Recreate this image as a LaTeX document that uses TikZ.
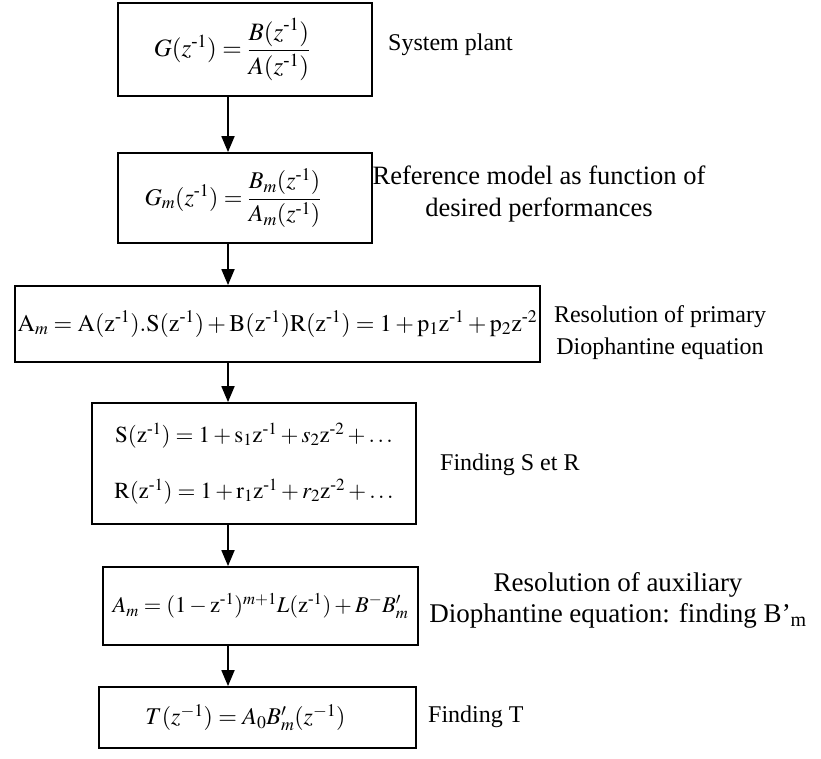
\documentclass[tikz,border=0pt]{standalone}
\usepackage{amsmath}
\usepackage{mathptmx}
\usepackage[no-math]{fontspec}
\setmainfont{Liberation Serif}
\usetikzlibrary{arrows.meta, positioning, calc}
\newcommand{\hm}{\text{-}}

\begin{document}
\begin{tikzpicture}[x=1pt, y=-1pt,
        box/.style={rectangle, draw=black, line width=1.8pt, inner sep=2pt, font=\fontsize{24}{32}\selectfont},
        lbl/.style={inner sep=0pt, align=center, font=\fontsize{24}{32}\selectfont},
        arr/.style={-{Triangle[length=16pt, width=13pt]}, line width=1.8pt, black}
      ]
        \useasboundingbox (0,0) rectangle (821,758);
        \node[box, minimum width=254pt, minimum height=93pt, font=\fontsize{25}{32}\selectfont] (plant) at (245,49.5) {$G(z^{\hm1}) = \dfrac{B(z^{\hm1})}{A(z^{\hm1})}$\hspace*{26pt}};
        \node[box, minimum width=254pt, minimum height=90pt] (model) at (245,198) {$G_m(z^{\hm1}) = \dfrac{B_m(z^{\hm1})}{A_m(z^{\hm1})}$\hspace*{24pt}};
        \node[box, minimum width=525pt, minimum height=76pt, font=\fontsize{24}{30}\selectfont] (prim) at (277.5,324) {$\mathrm{A}_m = \mathrm{A(z^{\hm1}).S(z^{\hm1})} + \mathrm{B(z^{\hm1})R(z^{\hm1})} = 1 + \mathrm{p_1z^{\hm1}} + \mathrm{p_2z^{\hm2}}$};
        \node[box, minimum width=324pt, minimum height=121pt, align=center, font=\fontsize{23}{56}\selectfont] (sr) at (254,463.5) {$\mathrm{S(z^{\hm1})} = 1 + \mathrm{s_1z^{\hm1}} + s_2\mathrm{z^{\hm2}} + \ldots$\\$\mathrm{R(z^{\hm1})} = 1 + \mathrm{r_1z^{\hm1}} + r_2\mathrm{z^{\hm2}} + \ldots$};
        \node[box, minimum width=315pt, minimum height=78pt, font=\fontsize{22.5}{30}\selectfont] (aux) at (260.5,606) {$A_m = (1-\mathrm{z}^{\hm1})^{m+1}L(\mathrm{z}^{\hm1}) + B^{-}B'_{m}$};
        \node[box, minimum width=317pt, minimum height=61pt] (tpol) at (257.5,717.5) {$T(z^{-1}) = A_0B'_m(z^{-1})$\hspace*{24pt}};
        \coordinate (ax) at (228,0);
        \node[lbl, anchor=west] (plantlbl) at (388,45) {System plant};
        \node[lbl, font=\fontsize{26.5}{32}\selectfont] (modellbl) at (539,194) {Reference model as function of\\desired performances};
        \node[lbl] (primlbl) at (660,333) {Resolution of primary\\Diophantine equation};
        \node[lbl, anchor=west] (srlbl) at (440,465) {Finding S et R};
        \node[lbl, font=\fontsize{27}{31}\selectfont] (auxlbl) at (618,600) {Resolution of auxiliary\\Diophantine equation: finding B’\textsubscript{m}};
        \node[lbl, anchor=west] (tlbl) at (428,717) {Finding T};
        \draw[arr] (plant.south -| ax) -- (model.north -| ax);
        \draw[arr] (model.south -| ax) -- (prim.north -| ax);
        \draw[arr] (prim.south -| ax) -- (sr.north -| ax);
        \draw[arr] (sr.south -| ax) -- (aux.north -| ax);
        \draw[arr] (aux.south -| ax) -- (tpol.north -| ax);
      \end{tikzpicture}
\end{document}
